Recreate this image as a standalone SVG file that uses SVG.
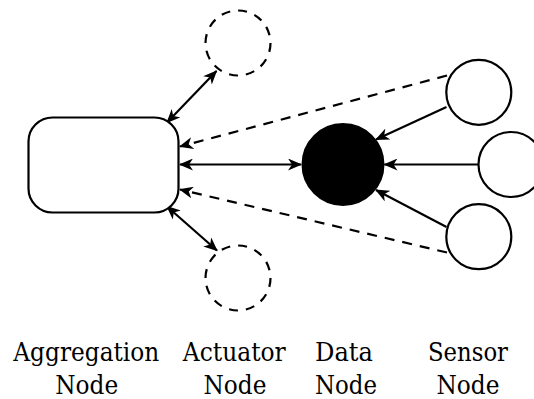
<svg xmlns="http://www.w3.org/2000/svg" width="534" height="399" viewBox="0 0 534 399">
  <style>
    .edge { fill: none; stroke: #000; stroke-width: 2.2; }
    .dash { stroke-dasharray: 10 8; }
    .node { fill: #fff; stroke: #000; stroke-width: 2.2; }
    .ghost { fill: none; stroke: #000; stroke-width: 2.2; stroke-dasharray: 9 8; }
    .data { fill: #000; stroke: #000; stroke-width: 2; }
    .label { font-size: 26px; fill: #000; text-anchor: middle; }
  </style>
  <defs>
    <marker id="head" markerUnits="userSpaceOnUse" markerWidth="14" markerHeight="12" viewBox="0 0 14 12" refX="13" refY="6" orient="auto-start-reverse">
      <path d="M0,0 L14,6 L0,12 L4,6 z" fill="#000"/>
    </marker>
  </defs>

  <g id="connectors">
    <!-- actuator links -->
    <line class="edge" x1="216.5" y1="71" x2="167" y2="122.5" marker-start="url(#head)" marker-end="url(#head)"/>
    <line class="edge" x1="167" y1="206.5" x2="217" y2="250.5" marker-start="url(#head)" marker-end="url(#head)"/>
    <!-- data link -->
    <line class="edge" x1="180" y1="164.5" x2="301" y2="164.5" marker-start="url(#head)" marker-end="url(#head)"/>
    <!-- sensor to aggregation (dashed) -->
    <line class="edge dash" x1="447" y1="75.5" x2="180" y2="146.5" marker-end="url(#head)"/>
    <line class="edge dash" x1="447" y1="252.5" x2="180" y2="189.5" marker-end="url(#head)"/>
    <!-- sensor to data -->
    <line class="edge" x1="446.5" y1="107" x2="376" y2="139.5" marker-end="url(#head)"/>
    <line class="edge" x1="478" y1="164.5" x2="384.5" y2="164.5" marker-end="url(#head)"/>
    <line class="edge" x1="446.5" y1="227" x2="376" y2="190" marker-end="url(#head)"/>
  </g>

  <g id="aggregation-node">
    <rect class="node" x="28.5" y="117.5" width="150" height="95" rx="24" ry="24"/>
  </g>
  <g id="actuator-node-top">
    <circle class="ghost" cx="238" cy="43" r="32.5"/>
  </g>
  <g id="actuator-node-bottom">
    <circle class="ghost" cx="238" cy="278" r="32.5"/>
  </g>
  <g id="data-node">
    <circle class="data" cx="343" cy="164.5" r="40.5"/>
  </g>
  <g id="sensor-node-top">
    <circle class="node" cx="478.8" cy="92.3" r="32.5"/>
  </g>
  <g id="sensor-node-middle">
    <circle class="node" cx="511" cy="164.5" r="32.5"/>
  </g>
  <g id="sensor-node-bottom">
    <circle class="node" cx="478.8" cy="236.7" r="32.5"/>
  </g>

  <g id="labels" font-family="'DejaVu Serif', serif">
    <text class="label" x="86.3" y="361" textLength="146" lengthAdjust="spacingAndGlyphs">Aggregation</text>
    <text class="label" x="86.7" y="393.5" textLength="63" lengthAdjust="spacingAndGlyphs">Node</text>
    <text class="label" x="234.3" y="361" textLength="103" lengthAdjust="spacingAndGlyphs">Actuator</text>
    <text class="label" x="235" y="393.5" textLength="63" lengthAdjust="spacingAndGlyphs">Node</text>
    <text class="label" x="344" y="361" textLength="58" lengthAdjust="spacingAndGlyphs">Data</text>
    <text class="label" x="346" y="393.5" textLength="62" lengthAdjust="spacingAndGlyphs">Node</text>
    <text class="label" x="468" y="361" textLength="80" lengthAdjust="spacingAndGlyphs">Sensor</text>
    <text class="label" x="468" y="393.5" textLength="63" lengthAdjust="spacingAndGlyphs">Node</text>
  </g>
</svg>
